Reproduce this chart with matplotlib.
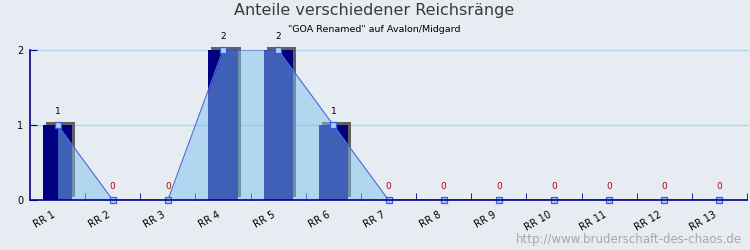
import matplotlib
matplotlib.use("Agg")
import matplotlib.pyplot as plt
import matplotlib.transforms as mtransforms
import numpy as np

categories = ["RR 1", "RR 2", "RR 3", "RR 4", "RR 5", "RR 6", "RR 7",
              "RR 8", "RR 9", "RR 10", "RR 11", "RR 12", "RR 13"]
values = [1, 0, 0, 2, 2, 1, 0, 0, 0, 0, 0, 0, 0]
title = "Anteile verschiedener Reichsränge"
subtitle = "\"GOA Renamed\" auf Avalon/Midgard"
watermark = "http://www.bruderschaft-des-chaos.de"

bg = "#e6ecf2"
fig = plt.figure(figsize=(7.5, 2.5), dpi=100, facecolor=bg)
ax = fig.add_axes([30/750, 50/250, 717/750, 150/250])
ax.set_facecolor(bg)

n = len(categories)
x = np.arange(n) + 0.5
ax.set_xlim(0, n)
ax.set_ylim(0, 2)

# grid
for g in [1, 2]:
    ax.axhline(g, color="#a8d8e8", lw=1, zorder=1, clip_on=False)

# shadows (3px right, 3px up)
shadow_tr = ax.transData + mtransforms.ScaledTranslation(3/100, 3/100, fig.dpi_scale_trans)
bw = 0.53
for xi, v in zip(x, values):
    if v > 0:
        b = ax.bar(xi, v, width=bw, color="#606060", zorder=2, transform=shadow_tr)
        for p in b:
            p.set_clip_on(False)
for xi, v in zip(x, values):
    if v > 0:
        ax.bar(xi, v, width=bw, color="#000080", zorder=3)

# area + line
ax.fill_between(x, values, 0, color="#80c0f0", alpha=0.5, lw=0, zorder=4)
ax.plot(x, values, color="#4a6ad8", lw=0.8, zorder=5)
ax.plot(x, values, ls="none", marker="s", ms=4.3, mfc="#a8d0f4", mec="#3a5ae8",
        mew=0.9, zorder=6, clip_on=False)

# value labels
for xi, v in zip(x, values):
    ax.annotate(str(v), (xi, v), xytext=(0, 9.5), textcoords="offset points",
                ha="center", va="center", fontsize=6.5,
                color="#000000" if v > 0 else "#b00000", zorder=7)

# axes styling
for s in ["top", "right"]:
    ax.spines[s].set_visible(False)
for s in ["left", "bottom"]:
    ax.spines[s].set_color("#000090")
    ax.spines[s].set_linewidth(1.2)
    ax.spines[s].set_zorder(8)

ax.set_yticks([0, 1, 2])
ax.set_yticklabels(["0", "1", "2"], fontsize=7)
ax.tick_params(axis="y", direction="in", length=5, color="#000090", pad=5)
ax.yaxis.set_ticks_position("left")

ax.set_xticks(x)
ax.set_xticklabels(categories, fontsize=7, rotation=30, ha="right",
                   rotation_mode="anchor")
ax.tick_params(axis="x", which="major", length=0, pad=7)
ax.set_xticks(np.arange(1, n + 1), minor=True)
ax.tick_params(axis="x", which="minor", direction="in", length=5, color="#000090")
for lab in ax.get_xticklabels():
    lab.set_transform(lab.get_transform() + mtransforms.ScaledTranslation(-6/100, 0, fig.dpi_scale_trans))

fig.text(374/750, 1 - 11/250, title, ha="center", va="center", fontsize=11.5,
         color="#3a3a3a")
fig.text(374/750, 1 - 30/250, subtitle, ha="center", va="center", fontsize=6.8,
         color="#000000")
fig.text(742/750, 1 - 239/250, watermark, ha="right", va="center", fontsize=8.5,
         color="#a8a8a8")

fig.savefig("out.png", dpi=100, facecolor=bg)
